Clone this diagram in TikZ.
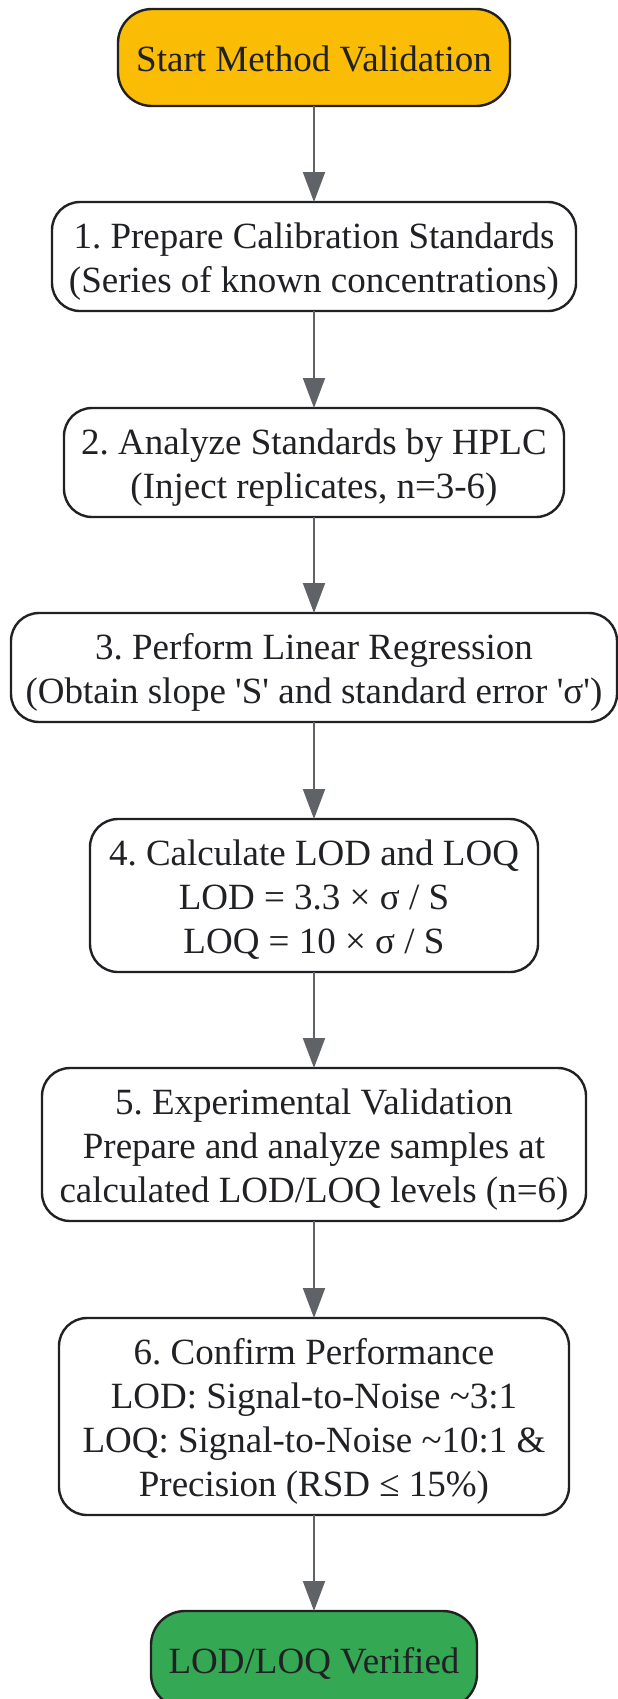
\documentclass[tikz,border=0pt]{standalone}
\usepackage{fontspec}
\setmainfont{Liberation Serif}
\frenchspacing
\usetikzlibrary{arrows.meta}
\definecolor{mytext}{HTML}{202124}
\definecolor{myline}{HTML}{5F6368}
\definecolor{myyellow}{HTML}{FBBC05}
\definecolor{mygreen}{HTML}{34A853}
\newcommand\ls{\rule[-4pt]{0pt}{22pt}} % line box strut
\tikzset{
	>=latex, % default arrow head
	box/.style={draw=mytext,line width=1.2pt,rounded corners=14pt,fill=white,text=mytext,
	  align=center,inner sep=0,outer sep=0,font=\fontsize{18.5}{22}\selectfont},
	box start/.style={box,fill=myyellow,rounded corners=17pt},
	box step/.style={box},
	box end/.style={box,fill=mygreen,rounded corners=17pt},
	connect arrow/.style={-{Triangle[length=15pt,width=11pt]},line width=1pt,myline}
}

\begin{document}
\begin{tikzpicture}[x=0.5pt,y=-0.5pt]
  \useasboundingbox (0,0) rectangle (617,1699);
  \def\xc{314} % common centre line

  % START
  \node[box start,minimum width=196pt,minimum height=48.5pt] (N-0) at (\xc,57.5)
    {\ls Start Method Validation\ls};

  % STEPS
  \node[box step,minimum width=262pt,minimum height=54.5pt] (N-1) at (\xc,256.5)
    {\ls 1. Prepare Calibration Standards\\(Series of known concentrations)\ls};
  \node[box step,minimum width=250pt,minimum height=54.5pt] (N-2) at (\xc,462.5)
    {\ls 2. Analyze Standards by HPLC\\(Inject replicates, n=3-6)\ls};
  \node[box step,minimum width=303pt,minimum height=54.5pt] (N-3) at (\xc,667.5)
    {\ls 3. Perform Linear Regression\\(Obtain slope \textquotesingle S\textquotesingle{} and standard error \textquotesingle σ\textquotesingle)\ls};
  \node[box step,minimum width=224pt,minimum height=76.5pt] (N-4) at (\xc,895.5)
    {\ls 4. Calculate LOD and LOQ\\LOD = 3.3 × σ / S\\LOQ = 10 × σ / S\ls};
  \node[box step,minimum width=272pt,minimum height=76.5pt] (N-5) at (\xc,1144.5)
    {\ls 5. Experimental Validation\\Prepare and analyze samples at\\calculated LOD/LOQ levels (n=6)\ls};
  \node[box step,minimum width=255pt,minimum height=98.5pt] (N-6) at (\xc,1416.5)
    {\ls 6. Confirm Performance\\LOD: Signal-to-Noise \textasciitilde 3:1\\LOQ: Signal-to-Noise \textasciitilde 10:1 \&\\Precision (RSD ≤ 15\%)\ls};

  % END
  \node[box end,minimum width=163pt,minimum height=48.5pt] (N-7) at (\xc,1659.5)
    {\ls LOD/LOQ Verified\ls};

  % ARROWS
  \foreach \i [evaluate={\j=int(\i+1);}] in {0,...,6}{ % loop over steps
    \draw[connect arrow] (N-\i) -- (N-\j);
  }
\end{tikzpicture}
\end{document}
